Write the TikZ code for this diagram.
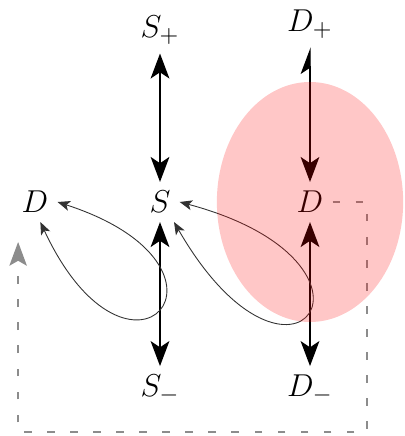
\documentclass[tikz,border=0pt]{standalone}
\usepackage{xcolor}
\usepackage{tikz}
\usetikzlibrary{arrows.meta, positioning, calc}
\definecolor{loopgray}{RGB}{50,50,50}
\definecolor{dashgray}{RGB}{140,140,140}

\begin{document}
\begin{tikzpicture}[
    on grid,
    every node/.style={inner sep=4pt, font=\fontsize{15}{18}\selectfont},
    bond/.style={{Stealth[length=4mm,width=3mm,inset=1mm]}-{Stealth[length=4mm,width=3mm,inset=1mm]}, thick},
    halfbond/.style={{Stealth[length=4mm,width=3mm,inset=1mm,left]}-{Stealth[length=4mm,width=3mm,inset=1mm]}, semithick},
    loopline/.style={{Stealth[length=2mm,width=1.6mm,inset=0.5mm]}-{Stealth[length=2mm,width=1.6mm,inset=0.5mm]}, loopgray, thin},
    feedback/.style={-{Stealth[length=3.8mm,width=2.8mm,inset=0.8mm]}, dashgray, semithick, dash pattern=on 3.5pt off 7pt}
]
\useasboundingbox (-2.56,-3.744) rectangle (3.904,3.232);
\node (S) at (0,0) {$S$};
\node[above=2.75cm of S] (Sp) {$S_+$};
\node[below=3.0cm of S] (Sm) {$S_-$};
\node[left=2.0cm of S] (Dl) {$D$};
\node[right=2.4cm of S] (Dr) {$D$};
\node[above=2.85cm of Dr] (Dp) {$D_+$};
\node[below=3.0cm of Dr] (Dm) {$D_-$};
\draw[bond] (Sp) -- (S);
\draw[bond] (S) -- (Sm);
\draw[halfbond] (Dp) -- (Dr);
\draw[bond] (Dr) -- (Dm);
\draw[loopline] (Dl.east) .. controls +(-18:3.4) and +(-65:3.4) .. (Dl.-75);
\draw[loopline] (S.east) .. controls +(-15:3.8) and +(-60:3.8) .. (S.-55);
% return path
\coordinate (dashend) at ($(Dl)+(-0.27,-0.64)$);
\coordinate (dashcorner) at (3.31,-3.68);
\draw[feedback] (Dr.east) -| (dashcorner) -| (dashend);
\fill[red, fill opacity=0.22] (Dr) ellipse [x radius=1.49cm, y radius=1.92cm];
\end{tikzpicture}
\end{document}
